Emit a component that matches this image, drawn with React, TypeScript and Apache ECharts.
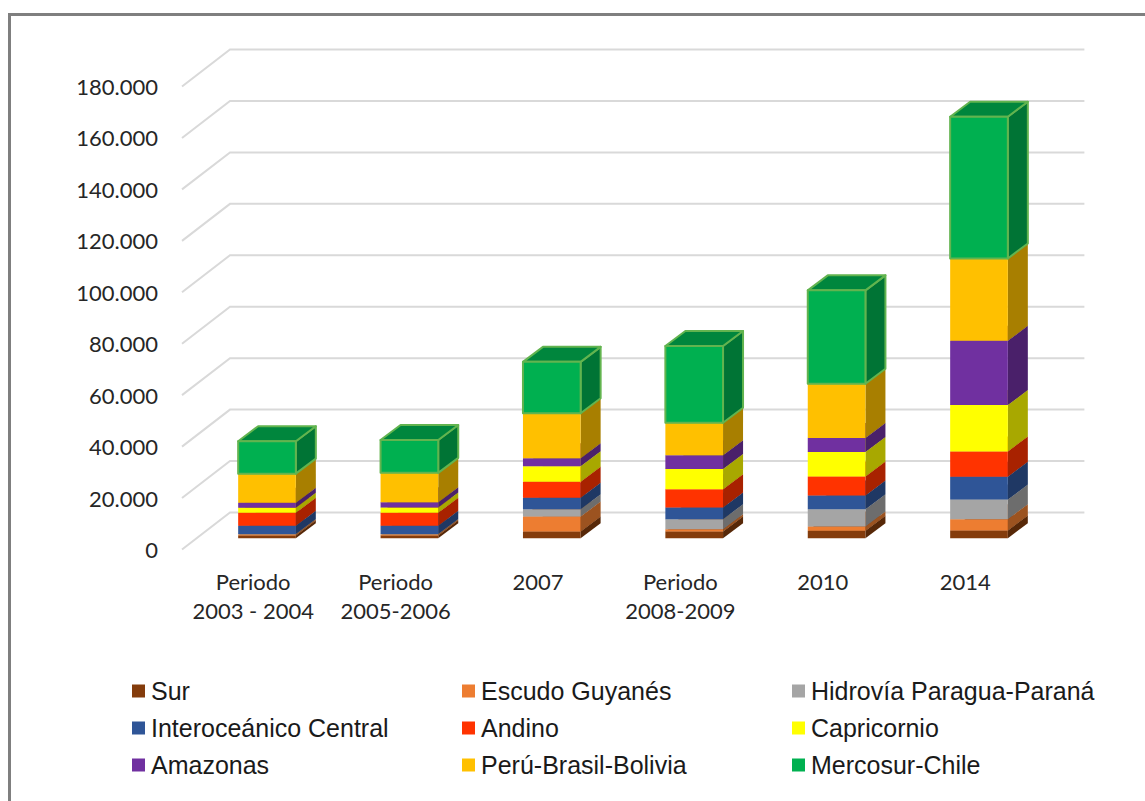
import React, { useEffect, useRef } from "react";
import * as echarts from "echarts";

// Categories along the horizontal axis
const categories = [
  "Periodo\n2003 - 2004",
  "Periodo\n2005-2006",
  "2007",
  "Periodo\n2008-2009",
  "2010",
  "2014",
];

// Tick values of the vertical axis
const yTicks = [0, 20000, 40000, 60000, 80000, 100000, 120000, 140000, 160000, 180000];

// Investment per corridor and period
const sur = [1050, 1050, 2600, 2600, 2850, 3000];
const escudoGuyanes = [400, 400, 5800, 900, 1700, 4400];
const hidrovia = [150, 150, 2850, 3900, 6750, 7600];
const interoceanico = [3250, 3250, 4500, 4500, 5300, 8900];
const andino = [5050, 5050, 6200, 7100, 7400, 9850];
const capricornio = [1950, 2000, 6000, 7900, 9500, 18000];
const amazonas = [1950, 2100, 3100, 5300, 5450, 25000];
const peruBrasilBolivia = [11300, 11400, 17500, 12700, 21100, 32000];
const mercosurChile = [12600, 12800, 20000, 29800, 36300, 55100];

const names = [
  "Sur",
  "Escudo Guyanés",
  "Hidrovía Paragua-Paraná",
  "Interoceánico Central",
  "Andino",
  "Capricornio",
  "Amazonas",
  "Perú-Brasil-Bolivia",
  "Mercosur-Chile",
];
const values = [
  sur,
  escudoGuyanes,
  hidrovia,
  interoceanico,
  andino,
  capricornio,
  amazonas,
  peruBrasilBolivia,
  mercosurChile,
];
const colors = [
  "#843C0C",
  "#ED7D31",
  "#A5A5A5",
  "#2F5597",
  "#FF3300",
  "#FFFF00",
  "#7030A0",
  "#FFC000",
  "#00B050",
];

const FONT_AXIS = "Lato";
const FONT_LEGEND = "Liberation Sans";

// Oblique projection: depth of the floor and of a column, in pixels
const WALL_DX = 48;
const WALL_DY = 37;
const COLUMN_DX = 20;
const COLUMN_DY = 15;
const COLUMN_OFFSET_X = 13.8;
const COLUMN_OFFSET_Y = 11.3;
const COLUMN_WIDTH_RATIO = 0.405;

function shade(hex: string, f: number): string {
  const n = parseInt(hex.slice(1), 16);
  const c = [(n >> 16) & 255, (n >> 8) & 255, n & 255].map((v) => Math.round(v * f));
  return `rgb(${c[0]},${c[1]},${c[2]})`;
}

function formatTick(v: number): string {
  return String(v).replace(/\B(?=(\d{3})+$)/g, ".");
}

const wallSeries = {
  type: "custom",
  silent: true,
  z: 1,
  data: yTicks.map((v) => [0, v]),
  encode: { x: 0, y: 1 },
  renderItem: (_p: any, api: any) => {
    const band = api.size([1, 0])[0];
    const [cx, y] = api.coord([0, api.value(1)]);
    const left = cx - band / 2;
    const right = left + band * categories.length;
    return {
      type: "polyline",
      shape: {
        points: [
          [left, y],
          [left + WALL_DX, y - WALL_DY],
          [right + WALL_DX, y - WALL_DY],
        ],
      },
      style: { stroke: "#D9D9D9", lineWidth: 2, fill: "none" },
    };
  },
};

function columnSeries(index: number) {
  const color = colors[index];
  const outlined = index === colors.length - 1;
  const data = categories.map((_c, i) => {
    let start = 0;
    for (let s = 0; s < index; s++) start += values[s][i];
    return [i, start, start + values[index][i]];
  });
  const stroke = outlined
    ? { stroke: "#62B44F", lineWidth: 2, lineJoin: "round" }
    : { stroke: null, lineWidth: 0 };
  return {
    type: "custom",
    name: names[index],
    z: 2 + index,
    itemStyle: { color },
    data,
    encode: { x: 0, y: [1, 2] },
    renderItem: (_p: any, api: any) => {
      const band = api.size([1, 0])[0];
      const w = band * COLUMN_WIDTH_RATIO;
      const [cx, y0raw] = api.coord([api.value(0), api.value(1)]);
      const [, y1raw] = api.coord([api.value(0), api.value(2)]);
      const x0 = cx + COLUMN_OFFSET_X - w / 2;
      const x1 = x0 + w;
      const y0 = y0raw - COLUMN_OFFSET_Y;
      const y1 = y1raw - COLUMN_OFFSET_Y;
      return {
        type: "group",
        children: [
          {
            type: "polygon",
            shape: {
              points: [
                [x1, y0],
                [x1 + COLUMN_DX, y0 - COLUMN_DY],
                [x1 + COLUMN_DX, y1 - COLUMN_DY],
                [x1, y1],
              ],
            },
            style: { fill: shade(color, 0.66), ...stroke },
          },
          {
            type: "polygon",
            shape: {
              points: [
                [x0, y1],
                [x0 + COLUMN_DX, y1 - COLUMN_DY],
                [x1 + COLUMN_DX, y1 - COLUMN_DY],
                [x1, y1],
              ],
            },
            style: { fill: shade(color, 0.76), ...stroke },
          },
          {
            type: "rect",
            shape: { x: x0, y: y1, width: w, height: y0 - y1 },
            style: { fill: color, ...stroke },
          },
        ],
      };
    },
  };
}

// Three legend columns, filled row by row
function legendColumn(left: number, items: string[]) {
  return {
    left,
    top: 678,
    orient: "vertical",
    icon: "rect",
    itemWidth: 13,
    itemHeight: 13,
    itemGap: 11,
    padding: 0,
    data: items,
    selectedMode: false,
    textStyle: {
      fontFamily: FONT_LEGEND,
      fontSize: 25,
      color: "#1A1A1A",
      padding: [0, 0, 0, 1],
      lineHeight: 26,
    },
  };
}

export default function App() {
  const ref = useRef<HTMLDivElement>(null);

  useEffect(() => {
    document.body.style.margin = "0";
    const chart = echarts.init(ref.current!, undefined, { renderer: "svg" });
    chart.setOption({
      animation: false,
      backgroundColor: "#FFFFFF",
      grid: { left: 182, top: 86.5, width: 854.4, height: 463 },
      xAxis: {
        type: "category",
        data: categories,
        axisLine: { show: false },
        axisTick: { show: false },
        axisLabel: {
          interval: 0,
          margin: 17.5,
          fontFamily: FONT_AXIS,
          fontSize: 22,
          lineHeight: 29,
          color: "#262626",
        },
      },
      yAxis: {
        type: "value",
        min: 0,
        max: 180000,
        interval: 20000,
        axisLine: { show: false },
        axisTick: { show: false },
        splitLine: { show: false },
        axisLabel: {
          margin: 24,
          padding: [0, 0, 2, 0],
          fontFamily: FONT_AXIS,
          fontSize: 22,
          color: "#262626",
          formatter: formatTick,
        },
      },
      legend: [
        legendColumn(132, [names[0], names[3], names[6]]),
        legendColumn(462, [names[1], names[4], names[7]]),
        legendColumn(792, [names[2], names[5], names[8]]),
      ],
      graphic: [
        {
          // Chart frame: runs off the page at the right and at the bottom
          type: "polyline",
          silent: true,
          shape: {
            points: [
              [9.5, 801],
              [9.5, 14.5],
              [1145, 14.5],
            ],
          },
          style: { fill: "none", stroke: "#7F7F7F", lineWidth: 3 },
        },
      ],
      series: [wallSeries, ...names.map((_n, i) => columnSeries(i))],
    });
    return () => chart.dispose();
  }, []);

  return <div ref={ref} style={{ width: 1145, height: 801 }} />;
}
